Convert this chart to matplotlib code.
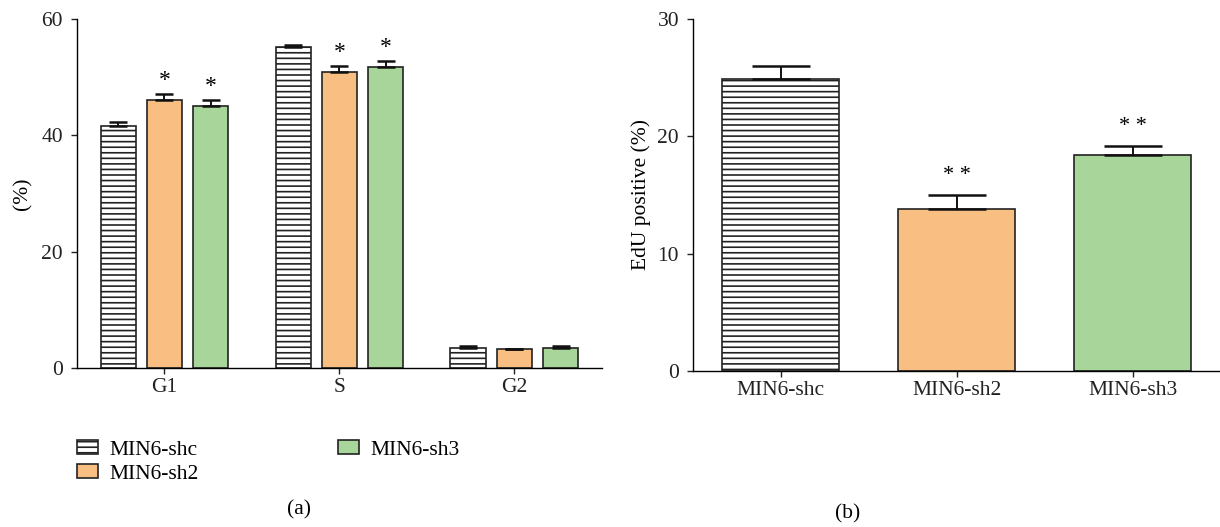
import numpy as np
import matplotlib
matplotlib.use("Agg")
import matplotlib.pyplot as plt

# cell cycle distribution (panel a)
phases = ["G1", "S", "G2"]
shc_vals = [41.6, 55.2, 3.5]
shc_err = [0.7, 0.4, 0.2]
sh2_vals = [46.1, 50.9, 3.2]
sh2_err = [1.0, 1.0, 0.1]
sh3_vals = [45.0, 51.8, 3.5]
sh3_err = [1.1, 1.0, 0.3]
sh2_marks = ["*", "*", ""]
sh3_marks = ["*", "*", ""]

# EdU positive (panel b)
groups = ["MIN6-shc", "MIN6-sh2", "MIN6-sh3"]
edu_vals = [24.9, 13.8, 18.4]
edu_err = [1.1, 1.2, 0.8]
edu_marks = ["", "* *", "* *"]

labels = ["MIN6-shc", "MIN6-sh2", "MIN6-sh3"]
orange = "#F8BE82"
green = "#A8D599"
edge = "#222222"

plt.rcParams["font.family"] = ["Liberation Serif", "DejaVu Serif"]
plt.rcParams["hatch.linewidth"] = 1.2
plt.rcParams["hatch.color"] = "#111111"
plt.rcParams["axes.linewidth"] = 1.0
fs = 15.5

fig = plt.figure(figsize=(12.2, 5.27), dpi=100)
ax1 = fig.add_axes([0.0631, 0.3017, 0.4303, 0.6622])
ax2 = fig.add_axes([0.568, 0.296, 0.4328, 0.668])


def style(ax):
    for s in ("top", "right"):
        ax.spines[s].set_visible(False)
    ax.tick_params(direction="out", length=4, width=1.0, labelsize=fs, colors="#222222")
    ax.tick_params(axis="y", pad=6)


# ---- panel a
x = np.arange(len(phases))
w = 0.203
off = 0.264
series = [
    (shc_vals, shc_err, "white", "---", None),
    (sh2_vals, sh2_err, orange, None, sh2_marks),
    (sh3_vals, sh3_err, green, None, sh3_marks),
]
handles = []
for i, (vals, errs, col, hatch, marks) in enumerate(series):
    xs = x + (i - 1) * off
    b = ax1.bar(xs, vals, w, color=col, edgecolor=edge, linewidth=1.2, hatch=hatch,
                yerr=[np.zeros(len(vals)), errs],
                error_kw=dict(ecolor="#111111", elinewidth=1.4, capsize=6.5, capthick=1.8),
                zorder=2)
    handles.append(b)
    if marks:
        for xi, v, e, m in zip(xs, vals, errs, marks):
            if m:
                ax1.annotate(m, (xi, v + e), xytext=(0, 2), textcoords="offset points",
                             ha="center", va="bottom", fontsize=17)
ax1.set_xlim(-0.5, 2.5)
ax1.set_ylim(0, 60)
ax1.set_yticks([0, 20, 40, 60])
ax1.set_xticks(x)
ax1.set_xticklabels(phases)
ax1.set_ylabel("(%)", fontsize=fs)
ax1.yaxis.set_label_coords(-0.085, 0.5)
style(ax1)

# ---- panel b
x2 = np.arange(len(groups))
cols = ["white", orange, green]
hatches = ["---", None, None]
for xi, v, e, c, h, m in zip(x2, edu_vals, edu_err, cols, hatches, edu_marks):
    ax2.bar(xi, v, 0.665, color=c, edgecolor=edge, linewidth=1.2, hatch=h,
            yerr=[[0], [e]],
            error_kw=dict(ecolor="#111111", elinewidth=1.4, capsize=21, capthick=1.8),
            zorder=2)
    if m:
        ax2.annotate(m, (xi, v + e), xytext=(0, 7), textcoords="offset points",
                     ha="center", va="bottom", fontsize=16)
ax2.set_xlim(-0.5, 2.5)
ax2.set_ylim(0, 30)
ax2.set_yticks([0, 10, 20, 30])
ax2.set_xticks(x2)
ax2.set_xticklabels(groups)
ax2.set_ylabel("EdU positive (%)", fontsize=fs)
ax2.yaxis.set_label_coords(-0.08, 0.5)
style(ax2)

# legend for panel a
fig.legend(handles, labels, loc="upper left", bbox_to_anchor=(0.0563, 0.1815),
           ncol=2, frameon=False, fontsize=fs, handlelength=0.95, handleheight=0.65,
           handletextpad=0.55, columnspacing=6.47, labelspacing=0.2, borderaxespad=0)

fig.text(0.245, 0.032, "(a)", ha="center", va="center", fontsize=fs)
fig.text(0.695, 0.024, "(b)", ha="center", va="center", fontsize=fs)

fig.savefig("out.png", dpi=100)
